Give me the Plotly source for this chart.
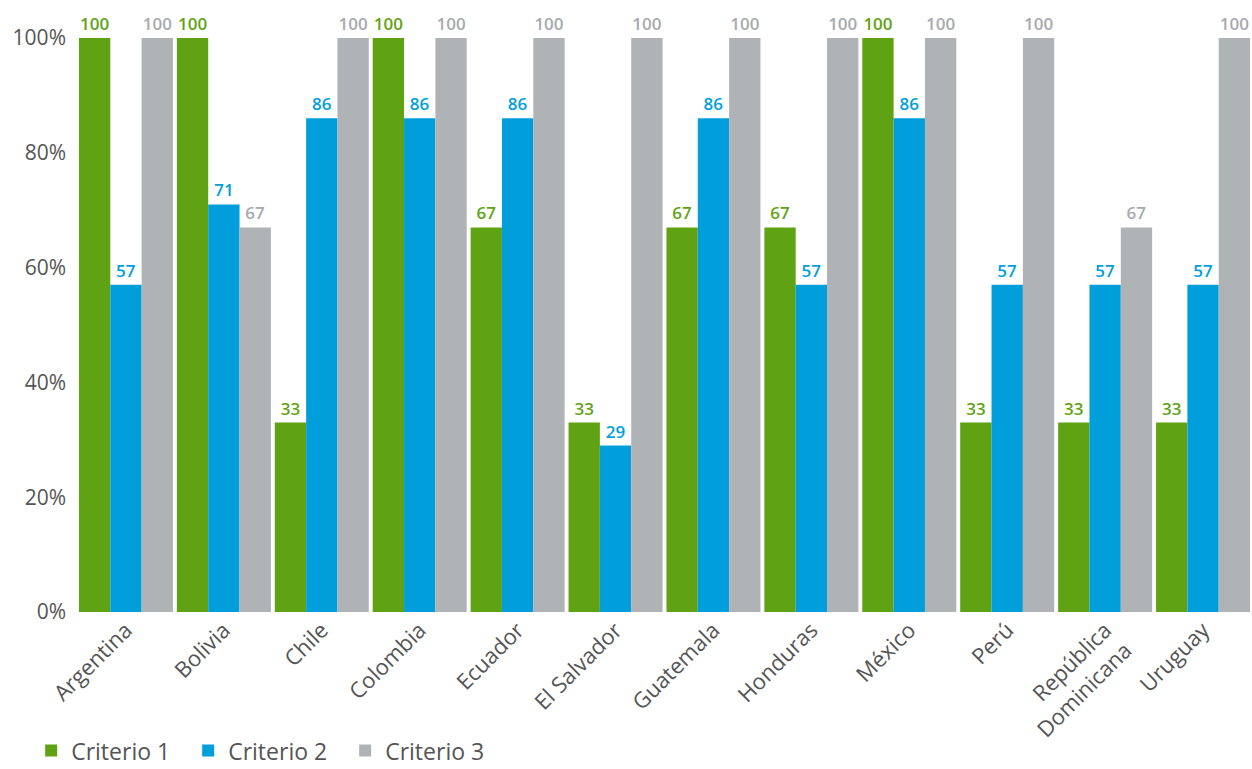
import plotly.graph_objects as go

categories = ["Argentina", "Bolivia", "Chile", "Colombia", "Ecuador", "El Salvador",
              "Guatemala", "Honduras", "México", "Perú", "República<br>Dominicana", "Uruguay"]
criterio1 = [100, 100, 33, 100, 67, 33, 67, 67, 100, 33, 33, 33]
criterio2 = [57, 71, 86, 86, 86, 29, 86, 57, 86, 57, 57, 57]
criterio3 = [100, 67, 100, 100, 100, 100, 100, 100, 100, 100, 67, 100]
series_names = ["Criterio 1", "Criterio 2", "Criterio 3"]
colors = ["#5FA314", "#009FDB", "#B0B3B6"]
text_colors = ["#5FA314", "#009FDB", "#A7AAAD"]
tick_vals = [0, 20, 40, 60, 80, 100]
tick_text = ["0%", "20%", "40%", "60%", "80%", "100%"]

FONT = "Open Sans"
fig = go.Figure()
for name, vals, c, tc in zip(series_names, [criterio1, criterio2, criterio3], colors, text_colors):
    fig.add_trace(go.Bar(
        x=categories, y=vals, name=name, marker_color=c, marker_line_width=0,
        text=[str(v) for v in vals], textposition="outside", cliponaxis=False,
        constraintext="none",
        textfont=dict(family=FONT, size=17, color=tc, weight=600),
    ))

fig.update_layout(
    width=1252, height=769,
    margin=dict(l=77, r=0, t=38, b=157, autoexpand=False),
    barmode="group", bargap=0.04, bargroupgap=0,
    plot_bgcolor="white", paper_bgcolor="white",
    font=dict(family=FONT, color="#555555"),
    xaxis=dict(tickangle=-45, tickfont=dict(size=22, color="#555555"), showgrid=False,
               showline=False, ticks="", automargin=False),
    yaxis=dict(range=[0, 100], tickvals=tick_vals, ticktext=tick_text, showgrid=False,
               zeroline=False, showline=False, ticks="", automargin=False,
               ticklabelstandoff=10,
               tickfont=dict(size=21, color="#555555")),
    legend=dict(orientation="h", x=-0.039, y=-0.279, xanchor="left", yanchor="bottom",
                font=dict(size=23, color="#555555"), itemsizing="constant", traceorder="normal",
                itemwidth=30, entrywidth=112, entrywidthmode="pixels"),
)

fig.write_html("out.html")
